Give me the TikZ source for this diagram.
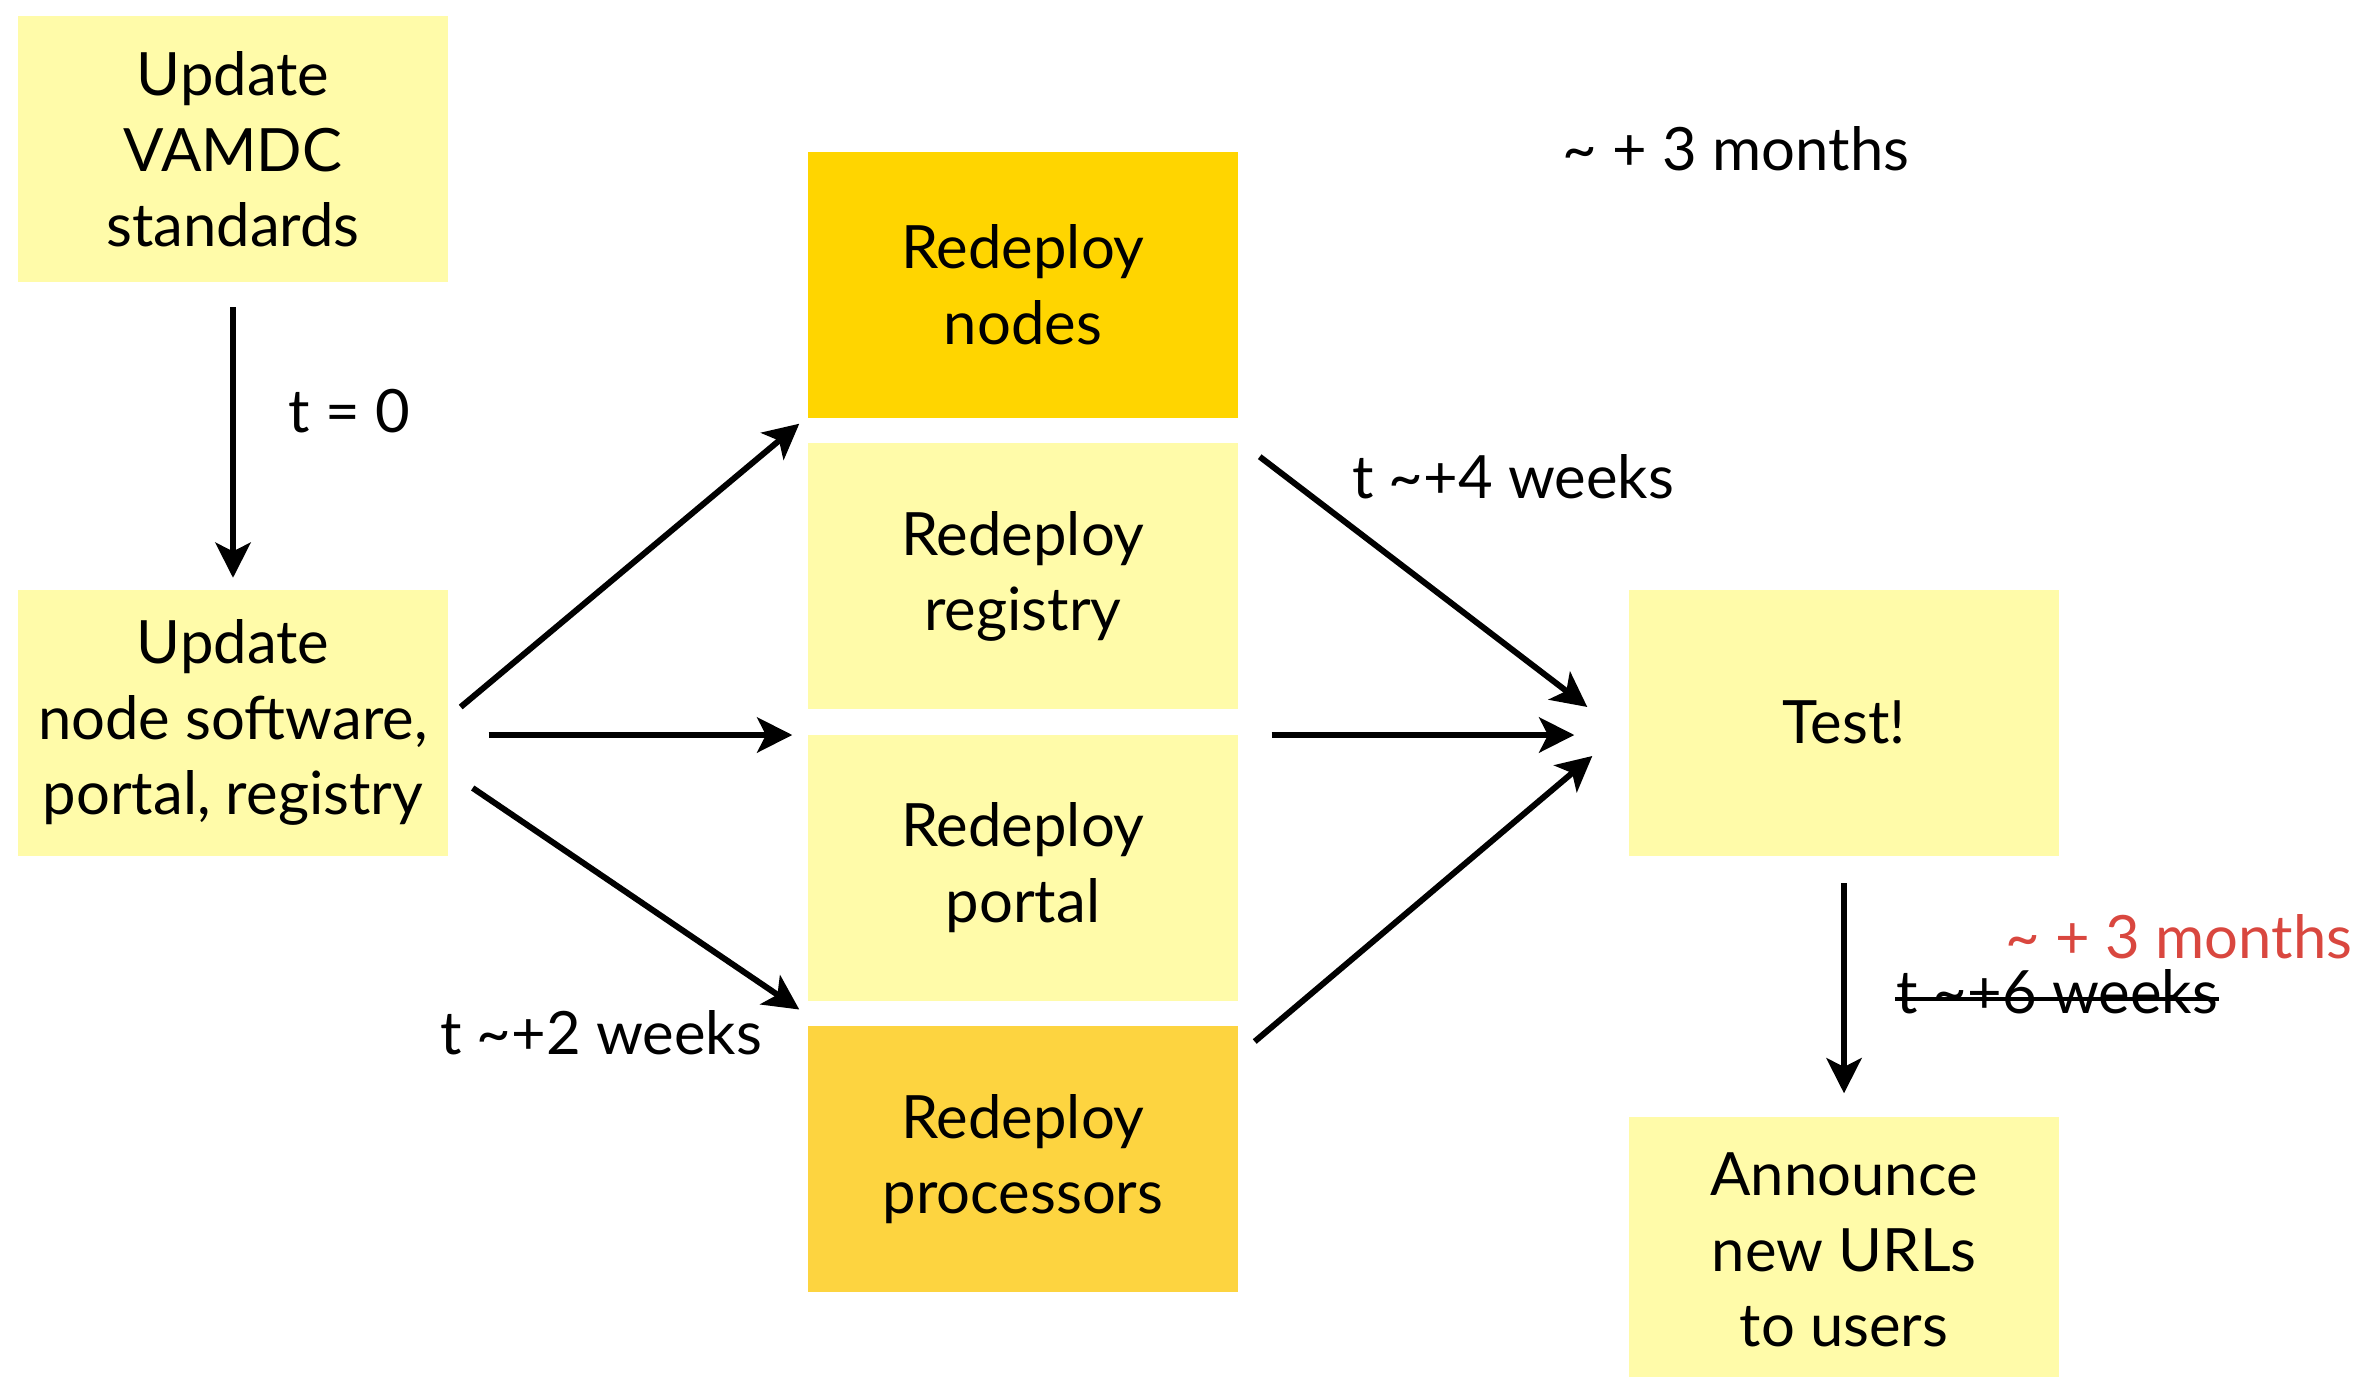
\documentclass[tikz,border=0pt]{standalone}
\usepackage{fontspec}
\setmainfont{Lato}
\usetikzlibrary{arrows.meta, positioning, calc}
\definecolor{paleyellow}{HTML}{FFFBA9}
\definecolor{goldyellow}{HTML}{FFD500}
\definecolor{amberyellow}{HTML}{FDD440}
\definecolor{markred}{HTML}{D9473F}

\begin{document}
\begin{tikzpicture}[
	% --- STYLES ---
	node distance=0.24cm,
	box/.style={
		fill=paleyellow,
		minimum width=4.3cm,
		minimum height=2.66cm,
		inner sep=0pt,
		align=center,
		font=\fontsize{17}{21.5}\selectfont
	},
	line/.style={
		-{Stealth[length=10pt, width=10pt, inset=2.5pt]},
		line width=1.7pt
	},
	io/.style={
		inner sep=0pt,
		font=\fontsize{17}{21.5}\selectfont
	}
	]
	\clip (0,0) rectangle (23.67,-13.77);
	\useasboundingbox (0,0) rectangle (23.67,-13.77);

	% --- Nodes ---
	\node[box] (std) at (2.33,-1.495) {Update\\VAMDC\\standards};
	\node[box] (upd) at (2.33,-7.225) {Update\\node software,\\portal, registry};
	\node[box, fill=goldyellow] (nodes) at (10.23,-2.85) {Redeploy\\nodes};
	\node[box, below=of nodes] (reg) {Redeploy\\registry};
	\node[box, below=of reg] (por) {Redeploy\\portal};
	\node[box, below=of por, fill=amberyellow] (proc) {Redeploy\\processors};
	\node[box] (test) at (18.44,-7.225) {Test!};
	\node[box] (ann) at (18.44,-12.5) {Announce\\new URLs\\to users};

	% --- Labels ---
	\node[io] (t0) at (3.49,-4.11) {t = 0};
	\node[io] (t2) at (6.01,-10.33) {t \textasciitilde+2 weeks};
	\node[io] (t4) at (15.13,-4.77) {t \textasciitilde+4 weeks};
	\node[io] (m3) at (17.36,-1.49) {\textasciitilde{} + 3 months};
	\node[io, text=markred] (m3new) at (21.79,-9.37) {\textasciitilde{} + 3 months};
	\node[io] (t6) at (20.57,-9.92) {t \textasciitilde+6 weeks};
	% strike-through of the old estimate
	\draw[line width=1pt] ([yshift=0.15cm]t6.base west) -- ([yshift=0.15cm]t6.base east);

	% --- Connections ---
	\draw[line, shorten <=0.24cm, shorten >=0.11cm] (std) -- (upd);
	\draw[line] ([shift={(0.12,0.155)}]upd.east) -- ([shift={(-0.08,-0.05)}]nodes.south west);
	\draw[line] ([shift={(0.4,-0.125)}]upd.east) -- ([shift={(-0.15,-0.125)}]upd.east -| por.west);
	\draw[line] ([shift={(0.24,-0.655)}]upd.east) -- ([shift={(-0.08,0.16)}]proc.north west);
	\draw[line] ([shift={(0.21,-0.38)}]nodes.south east) -- ([shift={(-0.41,0.155)}]test.west);
	\draw[line, shorten >=0.54cm] ([shift={(0.33,-0.125)}]upd.east -| por.east) -- ([yshift=-0.125cm]test.west);
	\draw[line] ([shift={(0.16,-0.16)}]proc.north east) -- ([shift={(-0.36,-0.335)}]test.west);
	\draw[line, shorten <=0.27cm, shorten >=0.23cm] (test) -- (ann);

\end{tikzpicture}
\end{document}
